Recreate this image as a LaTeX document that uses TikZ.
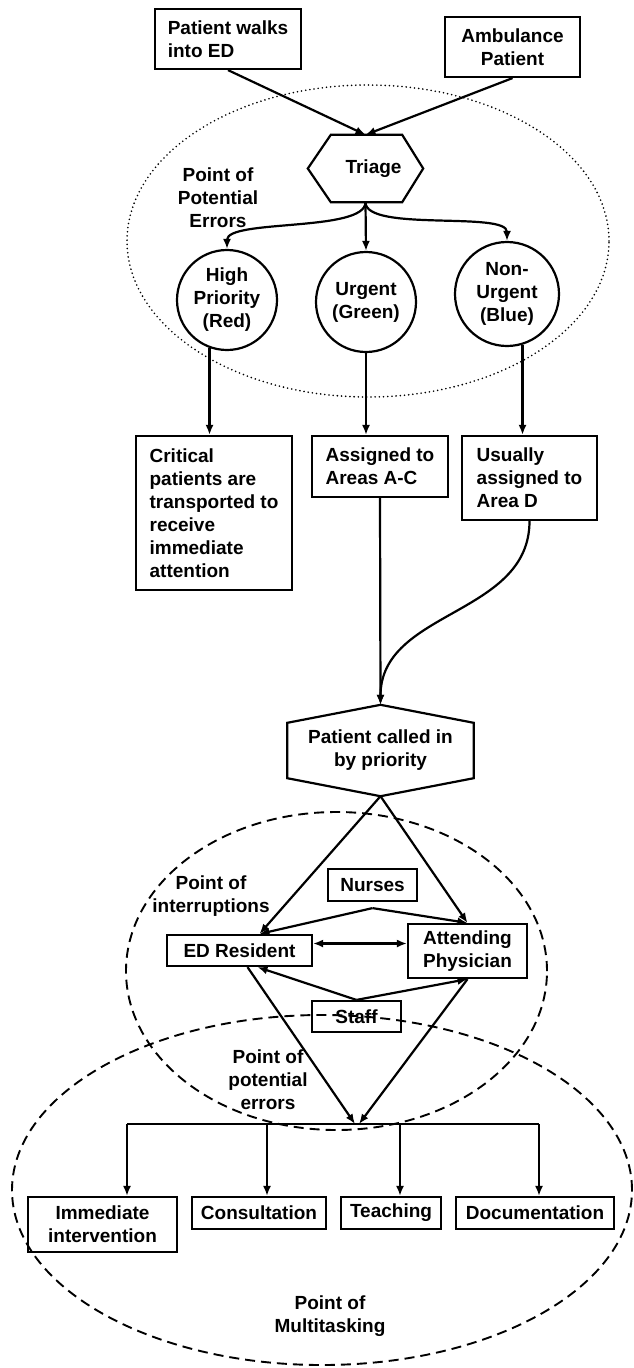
\documentclass[tikz,border=0pt]{standalone}
\usepackage{fontspec}
\setmainfont{Liberation Sans}
\usetikzlibrary{arrows.meta}

\begin{document}
\begin{tikzpicture}[x=1pt, y=-1pt, font=\fontsize{19}{23}\selectfont\bfseries,
  box/.style={draw, line width=2.2pt, inner sep=0pt},
  circ/.style={draw, circle, line width=2.2pt, inner sep=0pt, align=center, minimum size=100pt},
  arr/.style={-{Latex[length=10pt,width=8pt]}, line width=2.2pt},
  ln/.style={line width=2.2pt},
  dsh/.style={line width=1.9pt, dash pattern=on 10pt off 6pt}]
\useasboundingbox (0,0) rectangle (634,1368);
\def\busy{1124}
%entry
\node[box, align=left, minimum width=146, minimum height=60] (walk) at (228,39) {Patient walks\\into ED};
\node[box, align=center, minimum width=135, minimum height=60] (amb) at (512.5,47) {Ambulance\\Patient};
%triage
\node[inner sep=0pt, minimum width=115, minimum height=67] (tri) at (365.5,168.5) {\hspace*{16pt}Triage};
\draw[ln] (tri.west) -- ([xshift=23pt]tri.north west) -- ([xshift=-21pt]tri.north east) -- (tri.east)
  -- ([xshift=-21pt]tri.south east) -- ([xshift=23pt]tri.south west) -- cycle;
\draw[arr] (walk.south) -- (tri.north);
\draw[arr] (amb.south) -- (tri.north);
\draw[line width=1.8pt, line cap=round, dash pattern=on 0pt off 4.2pt] (368,241) ellipse [x radius=241pt, y radius=156pt];
\node[align=center] (pe1) at (218,198) {Point of\\Potential\\Errors};
%priority
\node[circ] (hp) at (227,300) {High\\Priority\\(Red)};
\node[circ] (ug) at (366,302) {Urgent\\(Green)};
\node[circ, minimum size=104pt] (nu) at (507,294) {Non-\\Urgent\\(Blue)};
\draw[arr] (tri.south) .. controls +(0,30) and +(0,-30) .. (hp.north);
\draw[arr] (tri.south) -- (ug.north);
\draw[arr] (tri.south) .. controls +(0,30) and +(0,-30) .. (nu.north);
%areas
\node[box, align=left, minimum width=156, minimum height=154] (crit) at (214,513) {Critical\\patients are\\transported to\\receive\\immediate\\attention};
\node[box, align=left, minimum width=136, minimum height=61] (asg) at (380,466.5) {Assigned to\\Areas A-C};
\node[box, align=left, minimum width=135, minimum height=84] (usu) at (529.5,478) {Usually\\assigned to\\Area D};
\draw[arr] (hp.-110) -- (hp.-110 |- crit.north);
\draw[arr] (ug.south) -- (ug.south |- asg.north);
\draw[arr] (nu.-73) -- (nu.-73 |- usu.north);
%called in
\node[inner sep=0pt, align=center, minimum width=186, minimum height=91] (pc) at (380.5,750.5) {Patient called in\\by priority};
\draw[ln] (pc.north) -- ([yshift=-18pt]pc.north east) -- ([yshift=18pt]pc.south east) -- (pc.south)
  -- ([yshift=18pt]pc.south west) -- ([yshift=-18pt]pc.north west) -- cycle;
\draw[arr] (asg.south) -- (pc.north);
\draw[arr] (usu.south) .. controls +(0,95) and +(0,-95) .. (pc.north);
%interruptions
\draw[dsh] (336.5,971) ellipse [x radius=210.5pt, y radius=159pt];
\node[align=center] (pi) at (211,896) {Point of\\interruptions};
\node[box, minimum width=89, minimum height=32] (nur) at (372.5,885) {Nurses};
\node[box, minimum width=145, minimum height=31] (edr) at (239.5,950.5) {ED Resident};
\node[box, align=center, minimum width=119, minimum height=54] (att) at (467.5,951) {Attending\\Physician};
\node[box, minimum width=89, minimum height=31] (stf) at (356.5,1016.5) {Staff};
\draw[arr] (pc.south) -- ([xshift=20pt]edr.north);
\draw[arr] (pc.south) -- (att.north);
\draw[arr] ([yshift=-6pt]nur.south) -- ([xshift=20pt]edr.north);
\draw[arr] ([yshift=-6pt]nur.south) -- (att.north);
\draw[{Latex[length=10pt,width=8pt]}-{Latex[length=10pt,width=8pt]}, line width=2.2pt] ([yshift=7pt]edr.east) -- ([yshift=7pt]edr.east -| att.west);
\draw[arr] (stf.north) -- ([xshift=18pt]edr.south);
\draw[arr] (stf.north) -- (att.south);
%tasks
\coordinate (mid) at (357,\busy);
\draw[arr] ([xshift=8pt]edr.south) -- ([xshift=-2pt]mid);
\draw[arr] (att.south) -- ([xshift=2pt]mid);
\node[align=center] (pe2) at (268,1080) {Point of\\potential\\errors};
\node[box, align=center, minimum width=149, minimum height=55] (imm) at (102.5,1224.5) {Immediate\\intervention};
\node[box, minimum width=134, minimum height=32] (con) at (259,1213) {Consultation};
\node[box, minimum width=100, minimum height=32] (tea) at (391,1213) {Teaching};
\node[box, minimum width=158, minimum height=32] (doc) at (535,1213) {Documentation};
\foreach \x/\n in {127/imm, 267/con, 400/tea, 539/doc} {
  \coordinate (b\n) at (\x,\busy);
  \draw[arr] (b\n) -- (b\n |- \n.north);
}
\draw[ln] (bimm) -- (bdoc);
\draw[dsh] (322,1190) ellipse [x radius=310pt, y radius=175pt];
\node[align=center] (pm) at (330,1316) {Point of\\Multitasking};
\end{tikzpicture}
\end{document}
